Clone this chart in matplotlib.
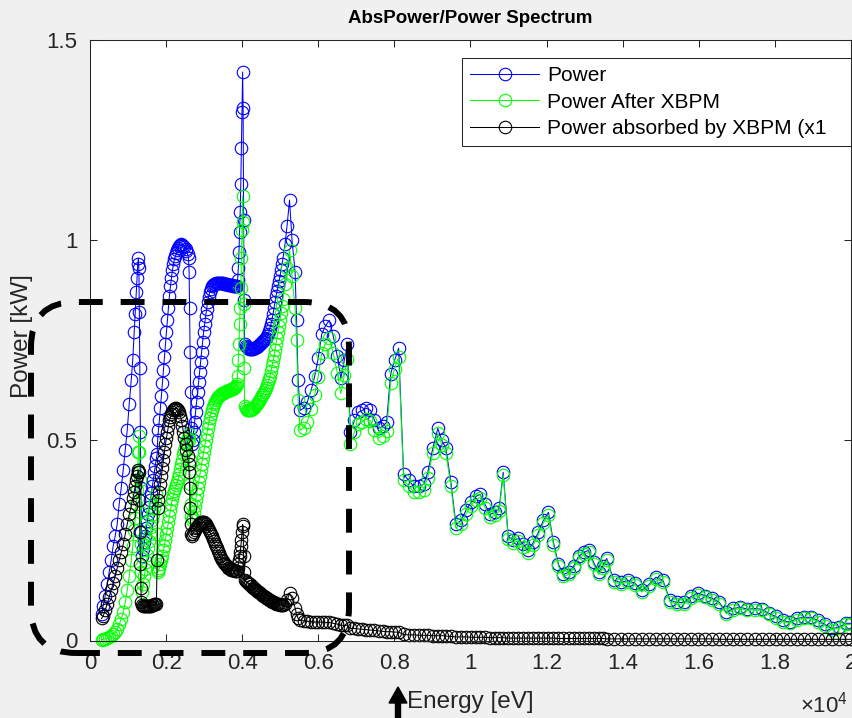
import matplotlib
matplotlib.use("Agg")
import matplotlib.pyplot as plt
import matplotlib.patches as mpatches
from matplotlib.transforms import IdentityTransform
from matplotlib.ticker import FuncFormatter

plt.rcParams['font.family'] = ['Liberation Sans', 'DejaVu Sans']
plt.rcParams['mathtext.fontset'] = 'custom'
plt.rcParams['mathtext.rm'] = 'Liberation Sans'

# photon energy grid [eV]
energy_ev = [
    304, 343, 396, 449, 502, 555, 608, 660, 713, 766, 819, 872, 925, 978, 1030, 1083, 1123, 1162, 1189, 1215, 1236, 1255, 1271,
    1284, 1297, 1310, 1324, 1337, 1353,
    1374, 1400, 1427, 1453, 1480, 1506, 1532, 1559, 1585, 1612, 1638, 1664, 1691, 1717, 1744,
    1765, 1778, 1797, 1823, 1850, 1876, 1902, 1929, 1955, 1982, 2008, 2034, 2061, 2087, 2114, 2140, 2166,
    2193, 2219, 2246, 2272, 2299, 2325, 2351, 2378, 2404, 2431, 2457, 2483, 2510, 2536, 2563, 2589,
    2605, 2618, 2631, 2645, 2663,
    2682, 2695, 2721, 2748, 2774, 2801, 2827, 2853, 2880, 2906, 2933, 2959, 2985, 3012, 3038, 3065, 3091, 3118,
    3144, 3170, 3197, 3223, 3250, 3276, 3302, 3329, 3355, 3382, 3408, 3435, 3461, 3487, 3514, 3540, 3567, 3593,
    3619, 3646, 3672, 3699, 3725, 3751, 3778, 3804, 3831, 3857,
    3878, 3897, 3915, 3931, 3947, 3963, 3979, 3995, 4011, 4024, 4037, 4050, 4063,
    4095, 4122, 4148, 4174, 4201, 4227, 4254, 4280, 4306, 4333, 4359, 4386, 4412, 4439, 4465, 4491, 4518, 4544, 4571,
    4597, 4624, 4650, 4676, 4703, 4729, 4756, 4782, 4808, 4835, 4861, 4888, 4914, 4941, 4967, 4993, 5020, 5046, 5073,
    5125, 5178, 5244, 5310, 5390,
    5429, 5469, 5522,
    5614, 5707, 5812, 5905, 5997, 6090, 6182, 6288, 6394, 6499, 6592, 6684, 6764,
    6843, 6948, 7054, 7160, 7265, 7371, 7477, 7583, 7688, 7794, 7900, 8005, 8111,
    8243, 8375, 8507, 8639, 8771, 8877, 9009, 9141, 9247, 9353, 9485,
    9617, 9749, 9881, 10013, 10145, 10251, 10383, 10515, 10647, 10753, 10859,
    10991, 11123, 11255, 11387, 11519, 11651, 11783, 11915, 12048, 12180,
    12312, 12444, 12576, 12708, 12840, 12972, 13104, 13236, 13368, 13474,
    13580, 13765, 13950, 14135, 14320, 14504, 14689, 14874, 15059, 15244, 15429, 15614,
    15799, 15984, 16169, 16354, 16539, 16724, 16909, 17094, 17279, 17464, 17649, 17834,
    18018, 18203, 18388, 18573, 18758, 18943, 19128, 19313, 19498, 19683, 19868, 20000,
]

# Power [kW]
power_kw = [
    0.065, 0.085, 0.11, 0.14, 0.17, 0.20, 0.235, 0.26, 0.29, 0.34, 0.38, 0.425, 0.475, 0.525, 0.59, 0.65, 0.70, 0.77, 0.815, 0.87, 0.905, 0.94, 0.955,
    0.93, 0.82, 0.68, 0.52, 0.38, 0.27,
    0.21, 0.228, 0.245, 0.262, 0.28, 0.298, 0.315, 0.333, 0.35, 0.368, 0.385, 0.402, 0.42, 0.437, 0.455,
    0.465, 0.50, 0.525, 0.55, 0.58, 0.61, 0.642, 0.675, 0.708, 0.74, 0.77, 0.80, 0.83, 0.86, 0.885, 0.905, 0.925,
    0.94, 0.952, 0.96, 0.968, 0.975, 0.98, 0.985, 0.988, 0.99, 0.988, 0.985, 0.982, 0.978, 0.972, 0.965, 0.955,
    0.92, 0.83, 0.72, 0.62, 0.53,
    0.49, 0.50, 0.52, 0.545, 0.57, 0.595, 0.62, 0.645, 0.67, 0.695, 0.72, 0.745, 0.77, 0.79, 0.81, 0.828, 0.845, 0.858,
    0.87, 0.878, 0.885, 0.888, 0.89, 0.891, 0.892, 0.893, 0.893, 0.893, 0.893, 0.893, 0.892, 0.892, 0.891, 0.891, 0.89, 0.89,
    0.889, 0.888, 0.888, 0.887, 0.887, 0.886, 0.886, 0.885, 0.885, 0.885,
    0.90, 0.93, 0.97, 1.02, 1.07, 1.14, 1.23, 1.32, 1.42, 1.33, 1.05, 0.85, 0.74,
    0.735, 0.732, 0.73, 0.729, 0.728, 0.728, 0.728, 0.729, 0.73, 0.731, 0.732, 0.733, 0.735, 0.737, 0.74, 0.742, 0.745, 0.747, 0.75,
    0.752, 0.755, 0.76, 0.765, 0.772, 0.78, 0.79, 0.80, 0.815, 0.83, 0.845, 0.86, 0.872, 0.885, 0.897, 0.91, 0.925, 0.94, 0.955,
    0.99, 1.035, 1.10, 1.00, 0.92,
    0.80, 0.65, 0.575,
    0.58, 0.595, 0.625, 0.66, 0.705, 0.765, 0.785, 0.80, 0.76, 0.71, 0.655, 0.70, 0.74,
    0.52, 0.55, 0.57, 0.575, 0.58, 0.575, 0.55, 0.53, 0.535, 0.545, 0.665, 0.70, 0.73,
    0.415, 0.40, 0.385, 0.385, 0.39, 0.42, 0.48, 0.53, 0.50, 0.48, 0.395,
    0.29, 0.30, 0.325, 0.345, 0.36, 0.365, 0.34, 0.315, 0.32, 0.33, 0.42,
    0.26, 0.25, 0.255, 0.24, 0.225, 0.245, 0.27, 0.30, 0.32, 0.245,
    0.19, 0.165, 0.17, 0.185, 0.21, 0.22, 0.225, 0.195, 0.17, 0.185,
    0.205, 0.15, 0.145, 0.15, 0.143, 0.125, 0.14, 0.158, 0.15, 0.10, 0.095, 0.095,
    0.11, 0.118, 0.112, 0.105, 0.095, 0.07, 0.08, 0.083, 0.078, 0.08, 0.078, 0.068,
    0.06, 0.05, 0.046, 0.055, 0.058, 0.058, 0.05, 0.04, 0.03, 0.033, 0.043, 0.043,
]

# Power after XBPM [kW]
power_after_kw = [
    0.002, 0.003, 0.004, 0.006, 0.008, 0.011, 0.015, 0.02, 0.028, 0.04, 0.053, 0.07, 0.095, 0.125, 0.16, 0.20, 0.235, 0.275, 0.305, 0.34, 0.375, 0.425, 0.47,
    0.51, 0.47, 0.40, 0.32, 0.24, 0.17,
    0.12, 0.14, 0.16, 0.178, 0.195, 0.213, 0.23, 0.248, 0.265, 0.283, 0.30, 0.315, 0.33, 0.347, 0.365,
    0.265, 0.17, 0.175, 0.18, 0.19, 0.20, 0.212, 0.225, 0.237, 0.25, 0.265, 0.28, 0.295, 0.31, 0.325, 0.34, 0.353,
    0.365, 0.373, 0.38, 0.388, 0.397, 0.406, 0.415, 0.428, 0.44, 0.452, 0.465, 0.477, 0.488, 0.497, 0.505, 0.515,
    0.50, 0.45, 0.39, 0.34, 0.31,
    0.30, 0.307, 0.32, 0.335, 0.35, 0.365, 0.38, 0.395, 0.41, 0.425, 0.44, 0.455, 0.47, 0.485, 0.50, 0.515, 0.53, 0.543,
    0.555, 0.565, 0.575, 0.583, 0.59, 0.595, 0.60, 0.605, 0.608, 0.61, 0.613, 0.615, 0.617, 0.618, 0.619, 0.62, 0.622, 0.623,
    0.624, 0.625, 0.626, 0.627, 0.628, 0.629, 0.63, 0.632, 0.635, 0.64,
    0.66, 0.70, 0.74, 0.79, 0.83, 0.88, 0.955, 1.025, 1.11, 1.045, 0.84, 0.68, 0.585,
    0.58, 0.577, 0.575, 0.575, 0.575, 0.576, 0.578, 0.58, 0.582, 0.585, 0.588, 0.591, 0.595, 0.599, 0.603, 0.607, 0.612, 0.616, 0.62,
    0.625, 0.63, 0.637, 0.645, 0.652, 0.66, 0.672, 0.685, 0.697, 0.71, 0.725, 0.74, 0.755, 0.77, 0.785, 0.80, 0.817, 0.835, 0.852,
    0.89, 0.93, 0.975, 0.91, 0.83,
    0.75, 0.60, 0.525,
    0.531, 0.547, 0.578, 0.614, 0.659, 0.719, 0.74, 0.755, 0.717, 0.669, 0.617, 0.662, 0.702,
    0.49, 0.52, 0.541, 0.547, 0.553, 0.549, 0.525, 0.506, 0.512, 0.523, 0.643, 0.679, 0.709,
    0.40, 0.386, 0.371, 0.372, 0.377, 0.407, 0.468, 0.518, 0.488, 0.469, 0.385,
    0.281, 0.291, 0.316, 0.337, 0.352, 0.357, 0.332, 0.308, 0.313, 0.323, 0.413,
    0.254, 0.244, 0.249, 0.234, 0.219, 0.239, 0.264, 0.294, 0.314, 0.239,
    0.185, 0.16, 0.165, 0.18, 0.205, 0.215, 0.22, 0.19, 0.165, 0.18,
    0.201, 0.146, 0.141, 0.146, 0.139, 0.121, 0.136, 0.154, 0.146, 0.096, 0.091, 0.091,
    0.106, 0.114, 0.109, 0.102, 0.092, 0.067, 0.077, 0.08, 0.075, 0.077, 0.075, 0.065,
    0.057, 0.047, 0.043, 0.052, 0.055, 0.055, 0.047, 0.037, 0.027, 0.03, 0.04, 0.04,
]

# Power absorbed by XBPM [kW]
power_abs_kw = [
    0.055, 0.06, 0.075, 0.09, 0.108, 0.125, 0.143, 0.16, 0.18, 0.20, 0.22, 0.24, 0.265, 0.29, 0.315, 0.335, 0.355, 0.37, 0.385, 0.40, 0.41, 0.42, 0.425,
    0.42, 0.35, 0.27, 0.19, 0.13, 0.095,
    0.088, 0.086, 0.085, 0.085, 0.085, 0.085, 0.086, 0.086, 0.087, 0.087, 0.088, 0.089, 0.09, 0.091, 0.092,
    0.20, 0.33, 0.35, 0.37, 0.39, 0.41, 0.43, 0.45, 0.47, 0.49, 0.505, 0.52, 0.535, 0.55, 0.558, 0.565, 0.57,
    0.575, 0.578, 0.58, 0.58, 0.578, 0.575, 0.57, 0.56, 0.55, 0.535, 0.52, 0.505, 0.49, 0.475, 0.46, 0.44,
    0.42, 0.38, 0.33, 0.29, 0.265,
    0.262, 0.265, 0.27, 0.275, 0.28, 0.284, 0.288, 0.291, 0.293, 0.295, 0.296, 0.296, 0.295, 0.293, 0.29, 0.286, 0.282, 0.277,
    0.272, 0.266, 0.26, 0.254, 0.248, 0.242, 0.236, 0.23, 0.224, 0.218, 0.212, 0.207, 0.202, 0.198, 0.194, 0.191, 0.188, 0.185,
    0.182, 0.18, 0.178, 0.177, 0.176, 0.175, 0.175, 0.174, 0.173, 0.173,
    0.18, 0.19, 0.20, 0.21, 0.22, 0.235, 0.25, 0.27, 0.29, 0.285, 0.21, 0.17, 0.15,
    0.148, 0.146, 0.144, 0.142, 0.14, 0.137, 0.135, 0.132, 0.13, 0.128, 0.126, 0.124, 0.122, 0.12, 0.118, 0.116, 0.114, 0.112, 0.11,
    0.108, 0.107, 0.105, 0.103, 0.101, 0.10, 0.098, 0.097, 0.096, 0.095, 0.094, 0.092, 0.091, 0.09, 0.09, 0.089, 0.089, 0.088, 0.088,
    0.09, 0.10, 0.118, 0.105, 0.082,
    0.065, 0.055, 0.05,
    0.049, 0.048, 0.047, 0.046, 0.046, 0.046, 0.045, 0.045, 0.043, 0.041, 0.038, 0.038, 0.038,
    0.03, 0.03, 0.029, 0.028, 0.027, 0.026, 0.025, 0.024, 0.023, 0.022, 0.022, 0.021, 0.021,
    0.015, 0.014, 0.014, 0.013, 0.013, 0.013, 0.012, 0.012, 0.012, 0.011, 0.010,
    0.009, 0.009, 0.009, 0.008, 0.008, 0.008, 0.008, 0.007, 0.007, 0.007, 0.007,
    0.006, 0.006, 0.006, 0.006, 0.006, 0.006, 0.006, 0.006, 0.006, 0.006,
    0.005, 0.005, 0.005, 0.005, 0.005, 0.005, 0.005, 0.005, 0.005, 0.005,
    0.004, 0.004, 0.004, 0.004, 0.004, 0.004, 0.004, 0.004, 0.004, 0.004, 0.004, 0.004,
    0.004, 0.004, 0.004, 0.004, 0.003, 0.003, 0.003, 0.003, 0.003, 0.003, 0.003, 0.003,
    0.003, 0.003, 0.003, 0.003, 0.003, 0.003, 0.003, 0.003, 0.003, 0.003, 0.003, 0.003,
]

series_labels = ['Power', 'Power After XBPM', 'Power absorbed by XBPM (x1']
x_ticks = [0, 2000, 4000, 6000, 8000, 10000, 12000, 14000, 16000, 18000, 20000]
y_ticks = [0, 0.5, 1, 1.5]

dark = '#262626'

fig = plt.figure(figsize=(8.53, 7.18), dpi=100, facecolor='#f0f0f0')
ax = fig.add_axes([90 / 853, 1 - 640.5 / 718, 761 / 853, 600.5 / 718])

style = dict(marker='o', markersize=9, markerfacecolor='none', markeredgewidth=0.8,
             linewidth=0.75, clip_on=False)
ax.plot(energy_ev, power_kw, color=(0, 0, 1), label=series_labels[0], **style)
ax.plot(energy_ev, power_after_kw, color=(0, 1, 0), label=series_labels[1], **style)
ax.plot(energy_ev, power_abs_kw, color='black', label=series_labels[2], **style)

ax.set_xlim(0, 20000)
ax.set_ylim(0, 1.5)
ax.set_xticks(x_ticks)
ax.set_yticks(y_ticks)
ax.xaxis.set_major_formatter(FuncFormatter(lambda v, p: f'{v / 1e4:g}'))
ax.yaxis.set_major_formatter(FuncFormatter(lambda v, p: f'{v:g}'))
ax.tick_params(direction='in', length=5, width=0.75, top=True, right=True,
               colors=dark, labelsize=16, pad=9)
for s in ax.spines.values():
    s.set_color(dark)
    s.set_linewidth(0.75)

ax.set_xlabel('Energy [eV]', fontsize=17.5, color=dark, va='center')
ax.xaxis.set_label_coords(0.5, -0.102)
ax.set_ylabel('Power [kW]', fontsize=17.5, color=dark, va='center')
ax.yaxis.set_label_coords(-0.090, 0.507)
ax.text(0.5, 1.0366, 'AbsPower/Power Spectrum', transform=ax.transAxes,
        ha='center', va='center', fontsize=13.5, fontweight='bold', color='black')
fig.text(848 / 853, 1 - 713 / 718, r'$\times10^{4}$', ha='right', va='baseline',
         fontsize=16, color=dark)

leg = ax.legend(loc='upper left', bbox_to_anchor=(372 / 761, 0, 389 / 761, 1 - 18 / 600.5),
                mode='expand', borderaxespad=0, fontsize=15, fancybox=False,
                framealpha=1, edgecolor=dark, handlelength=3.3, handletextpad=0.4,
                borderpad=0.4, labelspacing=0.35)
leg.get_frame().set_linewidth(0.75)

# hand-drawn annotation: dashed rounded box and arrow (figure pixels)
box = mpatches.FancyBboxPatch((31, 65), 318, 351, boxstyle='round,pad=0,rounding_size=45',
                              transform=IdentityTransform(), fill=False, edgecolor='black',
                              linewidth=4.3, linestyle=(0, (4.0, 3.0)), zorder=10)
fig.add_artist(box)
arrow = mpatches.FancyArrow(398, -4, 0, 35, width=5, head_width=18, head_length=16,
                            length_includes_head=True, color='black',
                            transform=IdentityTransform(), zorder=10)
fig.add_artist(arrow)

fig.savefig('out.png', dpi=100, facecolor=fig.get_facecolor())
